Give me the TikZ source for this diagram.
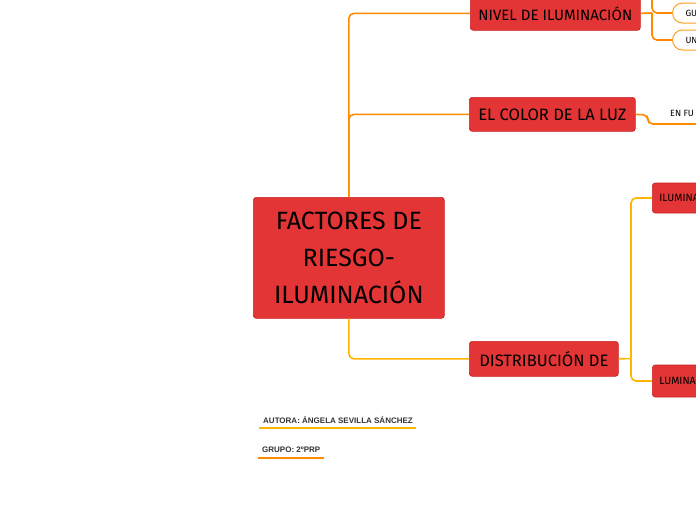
\documentclass[tikz,border=0pt]{standalone}
\usepackage{fontspec}
\setmainfont{Fira Sans}
\newfontfamily\footfont{Liberation Sans}
\definecolor{boxred}{HTML}{E33535}
\definecolor{boxborder}{HTML}{C92222}
\definecolor{lineorange}{HTML}{FF8A00}
\definecolor{lineyellow}{HTML}{FFB400}
\definecolor{pillorange}{HTML}{FF9E1F}
\begin{document}
\begin{tikzpicture}[x=1pt,y=-1pt,
  redbox/.style={draw=boxborder, fill=boxred, rounded corners=3pt, line width=0.7pt, inner sep=0pt, text=black},
  sidebox/.style={redbox, anchor=west, inner xsep=7pt, align=left},
  pill/.style={draw=pillorange, fill=white, rounded corners=10pt, line width=1pt, anchor=west, minimum height=20pt, inner xsep=13pt, inner ysep=0pt, text width=40pt, align=left, font=\fontsize{9}{10}\selectfont},
  orangeline/.style={draw=lineorange, line width=1.6pt, rounded corners=5pt},
  yellowline/.style={draw=lineyellow, line width=1.6pt, rounded corners=5pt},
  foot/.style={anchor=west, inner sep=0pt, font=\footfont\bfseries\fontsize{8}{9}\selectfont, text=black!80}
]
\useasboundingbox (0,0) rectangle (696,520);
\clip (0,0) rectangle (696,520);

% main node
\node[redbox, anchor=north west, minimum width=191pt, minimum height=121pt, align=center,
  font=\fontsize{25}{37}\selectfont] (central) at (253,197) {FACTORES DE\\RIESGO-\\ILUMINACIÓN};

% first level
\node[redbox, anchor=north west, minimum width=170pt, minimum height=34pt, font=\fontsize{15}{16}\selectfont] (nivel) at (470,-4) {NIVEL DE ILUMINACIÓN};
\node[redbox, anchor=north west, minimum width=166pt, minimum height=34pt, font=\fontsize{16.5}{17}\selectfont] (color) at (469,97) {EL COLOR DE LA LUZ};
\node[redbox, anchor=north west, minimum width=149pt, minimum height=35pt, font=\fontsize{16.5}{17}\selectfont] (dist) at (469,341) {DISTRIBUCIÓN DE};

% second level
\node[pill] (gu) at (672,13) {GU};
\node[pill] (un) at (672,40) {UN};
\node[anchor=west, inner sep=0pt, font=\fontsize{9}{10}\selectfont] (enfu) at (670,113) {EN FU};
\node[sidebox, minimum height=30pt, text width=86pt, font=\fontsize{10.5}{12}\selectfont] (ilum) at (652,198) {ILUMINA};
\node[sidebox, minimum height=32pt, text width=86pt, font=\fontsize{10.5}{12}\selectfont] (lumi) at (652,381) {LUMINA};

% junction coordinates
\coordinate (nj) at (652,13);
\coordinate (nup) at (652,-10);
\coordinate (cj) at (648,115);
\coordinate (cend) at (700,124);
\coordinate (dj) at (631,358.5);

% connectors
\path[orangeline] (central.north) |- (nivel.west);
\path[orangeline] (central.north) |- (color.west);
\path[yellowline] (central.south) |- (dist.west);

\path[orangeline, rounded corners=0pt] (nivel.east) -- (nj);
\path[orangeline] (nup) -- (nj) -- (gu.west);
\path[orangeline] (nj) |- (un.west);

\path[orangeline] (color.east) -- (cj) |- (cend);

\path[yellowline, rounded corners=0pt] (dist.east) -- (dj);
\path[yellowline] (dj) |- (ilum.west);
\path[yellowline] (dj) |- (lumi.west);

% footer
\node[foot] (autora) at (263,420) {AUTORA: ÁNGELA SEVILLA SÁNCHEZ};
\node[foot] (grupo) at (262,450) {GRUPO: 2ºPRP};
\coordinate (a1) at (259,428);
\coordinate (a2) at (416,428);
\coordinate (g1) at (258,458);
\coordinate (g2) at (324,458);
\draw[lineyellow, line width=1.6pt] (a1) -- (a2);
\draw[lineorange, line width=1.6pt] (g1) -- (g2);
\end{tikzpicture}
\end{document}
